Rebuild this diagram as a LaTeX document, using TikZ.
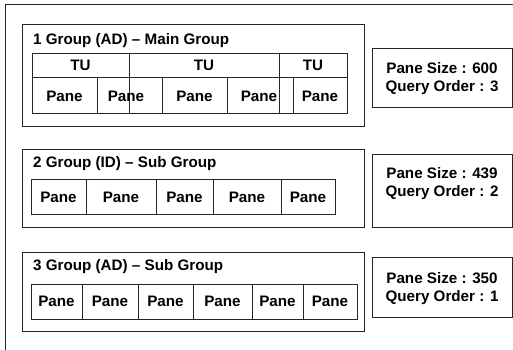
\documentclass[tikz,border=0pt]{standalone}
\usepackage{fontspec}
\setmainfont{Liberation Sans}
\begin{document}
\begin{tikzpicture}[x=1pt,y=-1pt,
  rule/.style={draw=black!85, line width=0.8pt},
  lbl/.style={font=\fontsize{15.2}{18}\selectfont\bfseries, inner sep=0pt, text=black},
  info/.style={lbl, align=center}]
\clip (0,0) rectangle (513,350);
\fill[white] (0,0) rectangle (513,350);
% outer frame
\draw[rule] (5,360) -- (5,4) -- (530,4);

% ---------- group 1 ----------
\draw[rule] (22,24) rectangle (364,126);
\node[lbl, anchor=west] (g1) at (33,41) {1 Group (AD) – Main Group};
\draw[rule] (32,53) rectangle (347,113);
\draw[rule] (32,77) -- (347,77);
\draw[rule] (129,53) -- (129,113) (279,53) -- (279,113);
\draw[rule] (97,77) -- (97,113) (162,77) -- (162,113)
            (227,77) -- (227,113) (293,77) -- (293,113);
\node[lbl] (tu1) at (80.5,65) {TU};
\node[lbl] (tu2) at (204,65) {TU};
\node[lbl] (tu3) at (313,65) {TU};
\node[lbl] (p11) at (64.5,96) {Pane};
\node[lbl] (p12) at (126,96) {Pane};
\node[lbl] (p13) at (194.5,96) {Pane};
\node[lbl] (p14) at (259,96) {Pane};
\node[lbl] (p15) at (320,96) {Pane};

\draw[rule] (372,48) rectangle (512,107);
\node[info] (r1) at (442,79) {Pane Size : 600\\Query Order : 3};

% ---------- group 2 ----------
\draw[rule] (22,149) rectangle (364,227);
\node[lbl, anchor=west] (g2) at (33,164) {2 Group (ID) – Sub Group};
\draw[rule] (31,179) rectangle (335,214);
\draw[rule] (86,179) -- (86,214) (156,179) -- (156,214)
            (213,179) -- (213,214) (281,179) -- (281,214);
\node[lbl] (p21) at (58.5,197) {Pane};
\node[lbl] (p22) at (121,197) {Pane};
\node[lbl] (p23) at (184.5,197) {Pane};
\node[lbl] (p24) at (247,197) {Pane};
\node[lbl] (p25) at (308,197) {Pane};

\draw[rule] (372,154) rectangle (512,227);
\node[info] (r2) at (442,184) {Pane Size : 439\\Query Order : 2};

% ---------- group 3 ----------
\draw[rule] (22,252) rectangle (364,331);
\node[lbl, anchor=west] (g3) at (33,267) {3 Group (AD) – Sub Group};
\draw[rule] (31,284) rectangle (357,319);
\draw[rule] (82,284) -- (82,319) (138,284) -- (138,319) (193,284) -- (193,319)
            (252,284) -- (252,319) (303,284) -- (303,319);
\node[lbl] (p31) at (56.5,301.5) {Pane};
\node[lbl] (p32) at (110,301.5) {Pane};
\node[lbl] (p33) at (165.5,301.5) {Pane};
\node[lbl] (p34) at (222.5,301.5) {Pane};
\node[lbl] (p35) at (277.5,301.5) {Pane};
\node[lbl] (p36) at (330,301.5) {Pane};

\draw[rule] (372,257) rectangle (512,317);
\node[info] (r3) at (442,289) {Pane Size : 350\\Query Order : 1};
\end{tikzpicture}
\end{document}
